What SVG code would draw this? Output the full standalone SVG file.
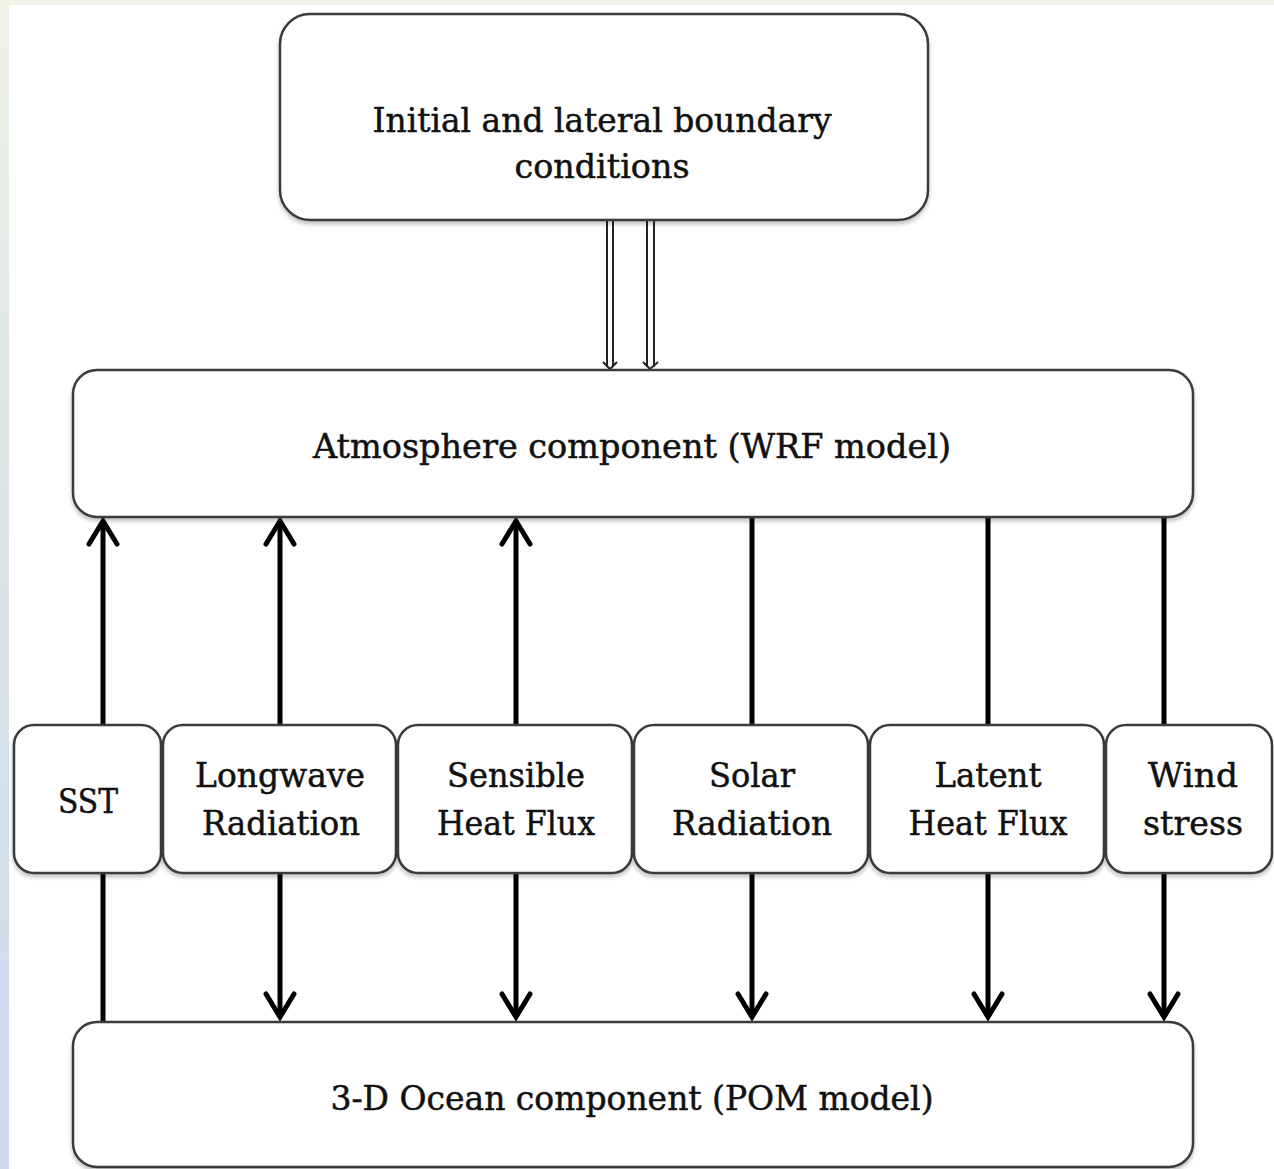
<svg xmlns="http://www.w3.org/2000/svg" width="1274" height="1169" viewBox="0 0 1274 1169">
<defs>
<linearGradient id="side" x1="0" y1="0" x2="0" y2="1">
<stop offset="0" stop-color="#eef2e6"/>
<stop offset="0.5" stop-color="#d9e3e6"/>
<stop offset="1" stop-color="#cdd9f0"/>
</linearGradient>
<filter id="sh" x="-5%" y="-5%" width="110%" height="115%">
<feGaussianBlur in="SourceAlpha" stdDeviation="2"/>
<feOffset dy="3"/>
<feComponentTransfer><feFuncA type="linear" slope="0.25"/></feComponentTransfer>
<feMerge><feMergeNode/><feMergeNode in="SourceGraphic"/></feMerge>
</filter>
</defs>
<style>
.box{fill:#ffffff;stroke:#3a3a3a;stroke-width:2.5;filter:url(#sh)}
.t{font-family:"DejaVu Serif","Liberation Serif",serif;font-size:33px;fill:#111111;stroke:#111111;stroke-width:0.5;text-anchor:middle}
.ln{stroke:#000000;stroke-width:5;fill:none}
.hd{stroke:#000000;stroke-width:5;fill:none;stroke-linecap:round;stroke-linejoin:miter}
.thin{stroke:#222222;stroke-width:2;fill:none}
</style>
<rect x="0" y="0" width="1274" height="1169" fill="#ffffff"/>
<rect x="0" y="0" width="1274" height="5" fill="#f0f3ea"/>
<rect x="0" y="0" width="9" height="1169" fill="url(#side)"/>

<g id="connectors">
<line class="thin" x1="607" y1="221" x2="607" y2="367"/>
<line class="thin" x1="613" y1="221" x2="613" y2="367"/>
<path d="M603 362 L610 369 L617 362" fill="none" stroke="#222" stroke-width="2"/>
<line class="thin" x1="647" y1="221" x2="647" y2="367"/>
<line class="thin" x1="654" y1="221" x2="654" y2="367"/>
<path d="M643 362 L650 369 L658 362" fill="none" stroke="#222" stroke-width="2"/>

<line class="ln" x1="103" y1="522" x2="103" y2="725"/>
<path class="hd" d="M89 544 L103 521 L117 544"/>
<line class="ln" x1="280" y1="522" x2="280" y2="725"/>
<path class="hd" d="M266 544 L280 521 L294 544"/>
<line class="ln" x1="516" y1="522" x2="516" y2="725"/>
<path class="hd" d="M502 544 L516 521 L530 544"/>
<line class="ln" x1="752" y1="517" x2="752" y2="725"/>
<line class="ln" x1="988" y1="517" x2="988" y2="725"/>
<line class="ln" x1="1164" y1="517" x2="1164" y2="725"/>

<line class="ln" x1="103" y1="873" x2="103" y2="1022"/>
<line class="ln" x1="280" y1="873" x2="280" y2="1017"/>
<path class="hd" d="M266 994 L280 1017 L294 994"/>
<line class="ln" x1="516" y1="873" x2="516" y2="1017"/>
<path class="hd" d="M502 994 L516 1017 L530 994"/>
<line class="ln" x1="752" y1="873" x2="752" y2="1017"/>
<path class="hd" d="M738 994 L752 1017 L766 994"/>
<line class="ln" x1="988" y1="873" x2="988" y2="1017"/>
<path class="hd" d="M974 994 L988 1017 L1002 994"/>
<line class="ln" x1="1164" y1="873" x2="1164" y2="1017"/>
<path class="hd" d="M1150 994 L1164 1017 L1178 994"/>
</g>

<g id="node-boundary">
<rect class="box" x="280" y="14" width="648" height="206" rx="30"/>
<text class="t" x="602" y="132" textLength="459" lengthAdjust="spacingAndGlyphs">Initial and lateral boundary</text>
<text class="t" x="602" y="178" textLength="175" lengthAdjust="spacingAndGlyphs">conditions</text>
</g>

<g id="node-atmosphere">
<rect class="box" x="73" y="370" width="1120" height="147" rx="24"/>
<text class="t" x="632" y="458" textLength="638" lengthAdjust="spacingAndGlyphs">Atmosphere component (WRF model)</text>
</g>

<g id="node-sst">
<rect class="box" x="14" y="725" width="147" height="148" rx="20"/>
<text class="t" x="88" y="813" textLength="60" lengthAdjust="spacingAndGlyphs">SST</text>
</g>

<g id="node-longwave">
<rect class="box" x="163" y="725" width="233" height="148" rx="20"/>
<text class="t" x="280" y="787" textLength="170" lengthAdjust="spacingAndGlyphs">Longwave</text>
<text class="t" x="281" y="835" textLength="158" lengthAdjust="spacingAndGlyphs">Radiation</text>
</g>

<g id="node-sensible">
<rect class="box" x="398" y="725" width="234" height="148" rx="20"/>
<text class="t" x="516" y="787" textLength="138" lengthAdjust="spacingAndGlyphs">Sensible</text>
<text class="t" x="516" y="835" textLength="158" lengthAdjust="spacingAndGlyphs">Heat Flux</text>
</g>

<g id="node-solar">
<rect class="box" x="634" y="725" width="234" height="148" rx="20"/>
<text class="t" x="752" y="787" textLength="86" lengthAdjust="spacingAndGlyphs">Solar</text>
<text class="t" x="752" y="835" textLength="160" lengthAdjust="spacingAndGlyphs">Radiation</text>
</g>

<g id="node-latent">
<rect class="box" x="870" y="725" width="234" height="148" rx="20"/>
<text class="t" x="988" y="787" textLength="107" lengthAdjust="spacingAndGlyphs">Latent</text>
<text class="t" x="988" y="835" textLength="159" lengthAdjust="spacingAndGlyphs">Heat Flux</text>
</g>

<g id="node-wind">
<rect class="box" x="1106" y="725" width="166" height="148" rx="20"/>
<text class="t" x="1193" y="787" textLength="90" lengthAdjust="spacingAndGlyphs">Wind</text>
<text class="t" x="1193" y="835" textLength="100" lengthAdjust="spacingAndGlyphs">stress</text>
</g>

<g id="node-ocean">
<rect class="box" x="73" y="1022" width="1120" height="145" rx="24"/>
<text class="t" x="632" y="1110" textLength="603" lengthAdjust="spacingAndGlyphs">3-D Ocean component (POM model)</text>
</g>
</svg>
